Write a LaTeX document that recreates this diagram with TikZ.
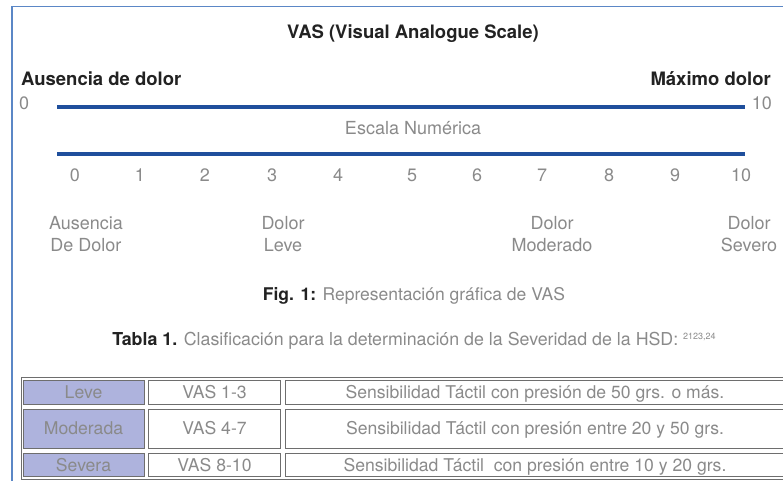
\documentclass[tikz,border=0pt]{standalone}
\usepackage{fontspec}
\setmainfont{TeX Gyre Heros}
\definecolor{scaleblue}{HTML}{1F4F9C}
\definecolor{frameblue}{HTML}{5B87C6}
\definecolor{textgray}{HTML}{8A8A8A}
\definecolor{darktext}{HTML}{222222}
\definecolor{tablegray}{HTML}{6E6E6E}
\definecolor{lavender}{HTML}{AEB3DD}
\tikzset{
  txt/.style={font=\fontsize{18}{20}\selectfont, text=textgray, inner sep=0pt},
  bold/.style={font=\fontsize{18.5}{20}\selectfont\bfseries, text=darktext, inner sep=0pt},
  scaleline/.style={scaleblue, line width=3.2pt},
  cell/.style={draw=tablegray, line width=0.8pt, inner sep=0pt, text height=12.5pt, text depth=0pt,
    font=\fontsize{17.6}{19}\selectfont, text=textgray},
}
\begin{document}
\begin{tikzpicture}[x=1pt,y=-1pt]
   \useasboundingbox (0,0) rectangle (783,481);
   \draw[frameblue, line width=1.8pt] (12,6.5) rectangle (830,530);
   \node[bold, anchor=base] (title) at (413,39) {VAS (Visual Analogue Scale)};
   \node[bold, anchor=base west] (ausencia) at (21,86) {Ausencia de dolor};
   \node[bold, anchor=base east] (maximo) at (771,86) {Máximo dolor};
   \node[txt, anchor=base west] (cero) at (19,110) {0};
   \node[txt, anchor=base east] (diez) at (772,110) {10};
   \coordinate (a0) at (57,107);
   \coordinate (a10) at (745,107);
   \draw[scaleline] (a0) -- (a10);
   \node[txt, anchor=base] (escala) at (413,135) {Escala Numérica};
   \coordinate (b0) at (57,154);
   \coordinate (b10) at (745,154);
   \draw[scaleline] (b0) -- (b10);
   \foreach \n/\x in {0/75,1/140,2/205,3/272,4/338,5/412,6/477,7/542,8/609,9/675,10/741}
     \node[txt, anchor=base] (num\n) at (\x,181) {\n};
   \node[txt, anchor=base, align=center] (ausdolor) at (86,251) {Ausencia\\[2pt]De Dolor};
   \node[txt, anchor=base, align=center] (leve) at (283,251) {Dolor\\[2pt]Leve};
   \node[txt, anchor=base, align=center] (moderado) at (552,251) {Dolor\\[2pt]Moderado};
   \node[txt, anchor=base, align=center] (severo) at (749,251) {Dolor\\[2pt]Severo};
   \node[txt, anchor=base, font=\fontsize{17.5}{19}\selectfont] (fig) at (414,300)
     {\textcolor{darktext}{\bfseries Fig. 1:} Representación gráfica de VAS};
   \node[txt, anchor=base, font=\fontsize{17.8}{19}\selectfont] (tabla) at (414,345)
     {\textcolor{darktext}{\bfseries Tabla 1.} Clasificación para la determinación de la Severidad de la HSD: {\fontsize{9}{10}\selectfont\raisebox{6pt}{2123,24}}};
   \draw[tablegray, line width=0.8pt] (21,377.5) rectangle (800,479.5);
   \node[cell, fill=lavender, minimum width=121pt, minimum height=24pt] (c11) at (83.5,392.5) {Leve};
   \node[cell, minimum width=132pt, minimum height=24pt] (c12) at (214.5,392.5) {VAS 1-3};
   \node[cell, minimum width=500pt, minimum height=24pt] (c13) at (535,392.5) {Sensibilidad Táctil con presión de 50 grs. o más.};
   \node[cell, fill=lavender, minimum width=121pt, minimum height=39pt] (c21) at (83.5,428.5) {Moderada};
   \node[cell, minimum width=132pt, minimum height=39pt] (c22) at (214.5,428.5) {VAS 4-7};
   \node[cell, minimum width=500pt, minimum height=39pt] (c23) at (535,428.5) {Sensibilidad Táctil con presión entre 20 y 50 grs.};
   \node[cell, fill=lavender, minimum width=121pt, minimum height=23pt] (c31) at (83.5,465) {Severa};
   \node[cell, minimum width=132pt, minimum height=23pt] (c32) at (214.5,465) {VAS 8-10};
   \node[cell, minimum width=500pt, minimum height=23pt] (c33) at (535,465) {Sensibilidad Táctil~ con presión entre 10 y 20 grs.};
\end{tikzpicture}
\end{document}
